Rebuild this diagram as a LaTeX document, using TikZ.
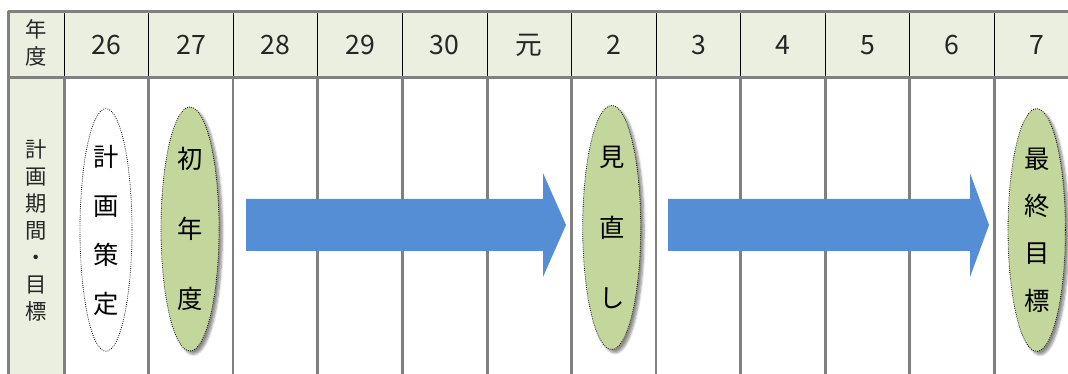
\documentclass[tikz,border=0pt]{standalone}
\usepackage{fontspec}
\newfontfamily\cjk{Noto Sans CJK JP}
\usetikzlibrary{shapes.geometric,shadows.blur}
\definecolor{hdr}{HTML}{EBEFDF}
\definecolor{gridgray}{HTML}{808080}
\definecolor{leaf}{HTML}{C3D69B}
\definecolor{arrowblue}{HTML}{558ED5}
\begin{document}
\begin{tikzpicture}[x=0.75pt,y=-0.75pt,
  yeartext/.style={font=\cjk\fontsize{20}{24}\selectfont, inner sep=0, text=black!85},
  sidetext/.style={font=\cjk\fontsize{16}{20.25}\selectfont, align=center, inner sep=0, text=black!85},
  oval/.style={ellipse, draw=black, densely dotted, line width=0.6pt, inner sep=0, align=center},
  greenoval/.style={oval, fill=leaf, blur shadow={shadow xshift=2.5pt, shadow yshift=-2.5pt, shadow opacity=45, shadow blur steps=6}},
  whiteoval/.style={oval, fill=white},
  hline/.style={draw=gridgray, line width=2.25pt},
  vline/.style={draw=black, line width=0.75pt},
  bline/.style={draw=gridgray, line width=2.25pt},
  blockarrow/.style={fill=arrowblue, draw=none}
]
\useasboundingbox (0,0) rectangle (1068,374);
\clip (0,0) rectangle (1068,374);
% backgrounds
\fill[hdr] (8,12) rectangle (1070,78);
\fill[hdr] (8,78) rectangle (64.3,376);
% header separators (thin black)
\foreach \k in {0,...,11} {
  \draw[vline] ({64.3+84.55*\k},12) -- ({64.3+84.55*\k},78);
}
% body separators (thick gray)
\foreach \k in {0,1,3,4,5,6,8,9,10,11} {
  \draw[bline] ({64.3+84.55*\k},78) -- ({64.3+84.55*\k},376);
}
\foreach \k in {2,7} {
  \draw[bline, line width=1.6pt] ({64.3+84.55*\k},78) -- ({64.3+84.55*\k},376);
}
% outer lines
\draw[hline] (8,12) -- (1070,12);
\draw[hline] (8,78) -- (1070,78);
\draw[hline] (8,11) -- (8,376);
% header labels
\node[sidetext] (hyear) at (36,43) {年\\度};
\foreach \t [count=\i from 0] in {26,27,28,29,30,元,2,3,4,5,6,7} {
  \node[yeartext] (y\i) at ({64.3+84.55*(\i+0.5)},45) {\t};
}
% side label
\node[sidetext] (side) at (36,230) {計\\画\\期\\間\\・\\目\\標};
% arrows
\fill[blockarrow] (246,199) -- (543,199) -- (543,173) -- (566,225) -- (543,277) -- (543,251) -- (246,251) -- cycle;
\fill[blockarrow] (668,199) -- (970,199) -- (970,173) -- (989,225) -- (970,277) -- (970,251) -- (668,251) -- cycle;
% ovals
\node[whiteoval, minimum width=39pt, minimum height=182pt,
      font=\cjk\fontsize{19}{36.75}\selectfont] (plan) at (106,230) {計\\画\\策\\定};
\node[greenoval, minimum width=43.5pt, minimum height=183pt,
      font=\cjk\fontsize{19}{52.5}\selectfont] (first) at (190,229) {初\\年\\度};
\node[greenoval, minimum width=43.5pt, minimum height=183pt,
      font=\cjk\fontsize{19}{53}\selectfont] (review) at (611.7,227.5) {見\\直\\し};
\node[greenoval, minimum width=43pt, minimum height=182pt,
      font=\cjk\fontsize{19}{35.5}\selectfont] (goal) at (1036.7,230) {最\\終\\目\\標};
\end{tikzpicture}
\end{document}
